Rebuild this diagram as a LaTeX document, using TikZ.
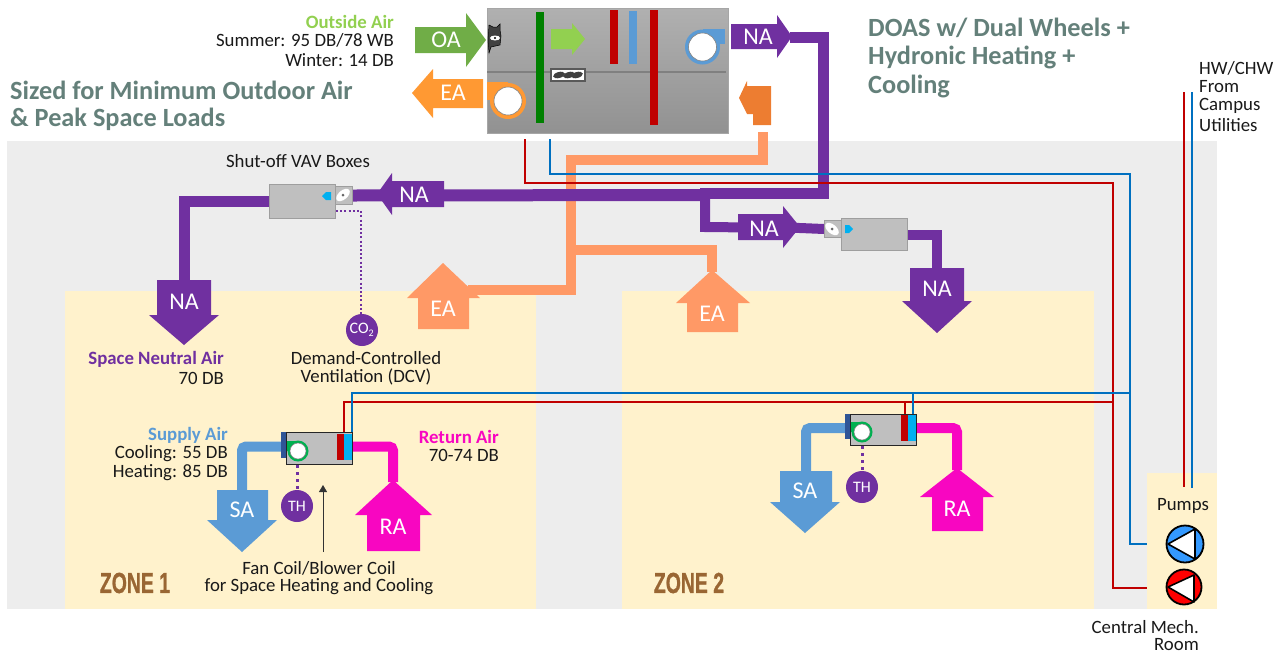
\documentclass[tikz,border=0pt]{standalone}
\usepackage{fontspec}
\setmainfont{Carlito}
\newfontfamily\zfont[FakeBold=1.2]{Liberation Sans}
\usetikzlibrary{calc,arrows.meta,backgrounds}
\definecolor{bgG}{HTML}{EDEDED}
\definecolor{zoneY}{HTML}{FFF2CC}
\definecolor{naP}{HTML}{7030A0}
\definecolor{eaO}{HTML}{FF9966}
\definecolor{exO}{HTML}{FF9933}
\definecolor{elO}{HTML}{ED7D31}
\definecolor{raM}{HTML}{F806C1}
\definecolor{saB}{HTML}{5B9BD5}
\definecolor{oaG}{HTML}{70AD47}
\definecolor{ltG}{HTML}{92D050}
\definecolor{redP}{HTML}{C00000}
\definecolor{bluP}{HTML}{0070C0}
\definecolor{cyanC}{HTML}{00B0F0}
\definecolor{titleC}{HTML}{64807A}
\definecolor{zoneT}{HTML}{996633}
\definecolor{fanG}{HTML}{00B050}
\definecolor{stripB}{HTML}{2F5597}
\definecolor{pumpBl}{HTML}{3399FF}
\tikzset{x=1pt,y=-1pt,
  txt/.style={inner sep=0,yshift=-1pt,font=\fontsize{18.8}{20}\selectfont,text=black!90},
  lab/.style={inner sep=0,font=\fontsize{24}{26}\selectfont,text=white},
  ttl/.style={inner sep=0,yshift=-1pt,font=\fontsize{26.3}{29}\bfseries\selectfont,text=titleC,anchor=west},
  zonet/.style={inner sep=0,font=\fontsize{29}{32}\bfseries\zfont\selectfont,text=zoneT},
  pipe/.style={line width=10pt,line join=miter},
  hw/.style={line width=1.6pt,redP},
  cw/.style={line width=1.6pt,bluP},
  sensor/.style={circle,fill=naP,minimum size=32pt,inner sep=0,text=white,font=\fontsize{16}{17}\selectfont},
  dots/.style={naP,line width=2pt,dash pattern=on 2pt off 2.2pt},
  bigdots/.style={naP,line width=3pt,dash pattern=on 3pt off 4pt},
  unit/.style={rectangle,fill=black!25,draw=black!38,line width=1pt,inner sep=0,anchor=north west},
  fcu/.style={rectangle,fill=black!25,draw=black!85,line width=1pt,inner sep=0,anchor=north west},
}
\newcommand{\boxat}[5]{\node[#1,minimum width=#4pt,minimum height=#5pt] (#2) at #3 {};}
\begin{document}
\begin{tikzpicture}
\useasboundingbox (0,0) rectangle (1285,654);
% named ends
\coordinate (ahuRed) at (525,139);
\coordinate (ahuBlu) at (550,139);
\coordinate (retOut) at (763,132);
\coordinate (eaTee) at (571,250);
\coordinate (eaA) at (468,290);
\coordinate (eaB) at (712,272);
\coordinate (naOutTip) at (790,37);
\coordinate (naMain) at (705,195);
\coordinate (naBr) at (800,228);
\coordinate (naL) at (184,281);
\coordinate (naR) at (937,269);
\coordinate (sa1) at (242,491);
\coordinate (ra1) at (393,482);
\coordinate (sa2) at (806,472);
\coordinate (ra2) at (957,470);
% units
\boxat{unit}{vavA}{(269,184)}{66}{34}
\boxat{unit}{dmpA}{(335,186)}{17}{18}
\boxat{unit}{vavB}{(841,218)}{66}{32}
\boxat{unit}{dmpB}{(824,220)}{17}{17}
\boxat{fcu}{fcuA}{(286,432)}{66}{32}
\boxat{fcu}{fcuB}{(850,414)}{66}{31}
% pump nodes
\node[circle,draw=black,line width=1.8pt,fill=pumpBl,minimum size=37pt,inner sep=0] (pumpB) at (1185,544) {};
\node[circle,draw=black,line width=1.8pt,fill=red,minimum size=35pt,inner sep=0] (pumpR) at (1184,587) {};
\fill[fill=white,draw=black,line width=1.6pt,line join=round] (1168,544) -- (1195,529) -- (1195,559) -- cycle;
\fill[fill=white,draw=black,line width=1.6pt,line join=round] (1168,587) -- (1194,575) -- (1194,602) -- cycle;
\begin{pgfonlayer}{background}
% backgrounds
\fill[bgG] (7,141) rectangle (1217,609);
\fill[zoneY] (65,291) rectangle (536,609);
\fill[zoneY] (622,291) rectangle (1094,609);
\fill[zoneY] (1147,473) rectangle (1217,609);
% return air pipes
\draw[pipe,eaO] (retOut) -- (763,160) -- (571,160) -- (571,290) -- (eaA);
\draw[pipe,eaO] (eaTee) -- (712,250) -- (eaB);
% NA pipes
\draw[pipe,naP,line width=11pt] (naOutTip) -- (823,37) -- (823,193) -- (700,193);
\draw[pipe,naP,line width=12pt] (dmpA.east) -- (naMain);
\draw[pipe,naP] (naMain) -- (705,227) -- (naBr) -- (dmpB.west);
\draw[pipe,naP,line width=11pt] (vavA.west) -| (naL);
\draw[pipe,naP] (vavB.east) -| (naR);
% hydronic lines
\draw[hw] (ahuRed) |- (1113,183) -- (1113,588) -- (1147,588);
\draw[hw] (1184,92) -- (1184,487);
\draw[cw] (1192,92) -- (1192,488);
\draw[hw] (344,432) -- (344,402) -- (1113,402);
\draw[hw] (905,414) -- (905,402);
\draw[cw] (ahuBlu) |- (1130,174) -- (1130,544) -- (1147,544);
\draw[cw] (352,432) -- (352,393) -- (1130,393);
\draw[cw] (913,414) -- (913,393);
% SA / RA pipes
\draw[pipe,saB,rounded corners=4pt] (fcuA.west |- 0,446.5) -- (242,446.5) -- (sa1);
\draw[pipe,raM,rounded corners=4pt] (fcuA.east |- 0,446.5) -- (393,446.5) -- (ra1);
\draw[pipe,saB,rounded corners=4pt] (fcuB.west |- 0,428) -- (806,428) -- (sa2);
\draw[pipe,raM,rounded corners=4pt] (fcuB.east |- 0,428) -- (957,428) -- (ra2);
\end{pgfonlayer}
% big arrows
\fill[oaG] (415,27) -- (466,27) -- (466,13) -- (486,40) -- (466,67) -- (466,53) -- (415,53) -- cycle;
\node[lab] (oaT) at (446,40) {OA};
\fill[exO] (412,93) -- (433,69) -- (433,79) -- (483,79) -- (483,108) -- (433,108) -- (433,118) -- cycle;
\node[lab] (eaT) at (453,93) {EA};
\fill[naP] (731,24) -- (777,24) -- (777,15) -- (792,36.5) -- (777,58) -- (777,49) -- (731,49) -- cycle;
\node[lab] (naT1) at (758,37) {NA};
\fill[naP] (377,194) -- (392,173) -- (392,181) -- (444,181) -- (444,207) -- (392,207) -- (392,215) -- cycle;
\node[lab] (naT2) at (414,195) {NA};
\fill[naP] (738,214) -- (783,214) -- (783,206) -- (800,227) -- (783,248) -- (783,240) -- (738,240) -- cycle;
\node[lab] (naT3) at (764,229) {NA};
\fill[naP] (157,280) -- (211,280) -- (211,315) -- (219,315) -- (184,345) -- (149,315) -- (157,315) -- cycle;
\node[lab] (naT4) at (184,302) {NA};
\fill[naP] (910,268) -- (964,268) -- (964,301) -- (972,301) -- (937,333) -- (902,301) -- (910,301) -- cycle;
\node[lab] (naT5) at (937,289) {NA};
\fill[eaO] (443,263) -- (480,298) -- (469,298) -- (469,329) -- (418,329) -- (418,298) -- (407,298) -- cycle;
\node[lab] (eaT1) at (443,309) {EA};
\fill[eaO] (712,270) -- (750,303) -- (738,303) -- (738,332) -- (687,332) -- (687,303) -- (676,303) -- cycle;
\node[lab] (eaT2) at (712,314) {EA};
\fill[saB] (217,490) -- (268,490) -- (268,520) -- (277,520) -- (242,552) -- (207,520) -- (217,520) -- cycle;
\node[lab] (saT1) at (242,510) {SA};
\fill[saB] (780,471) -- (832,471) -- (832,502) -- (840,502) -- (805,533) -- (770,502) -- (780,502) -- cycle;
\node[lab] (saT2) at (805,491) {SA};
\fill[raM] (393,480) -- (432,515) -- (420,515) -- (420,551) -- (367,551) -- (367,515) -- (355,515) -- cycle;
\node[lab] (raT1) at (393,527) {RA};
\fill[raM] (957,468) -- (994,497) -- (983,497) -- (983,531) -- (932,531) -- (932,497) -- (920,497) -- cycle;
\node[lab] (raT2) at (957,509) {RA};
% AHU
\node[rectangle,inner sep=0,anchor=north west,minimum width=241pt,minimum height=125pt,top color=black!31,bottom color=black!43,draw=black!35,line width=1pt] (ahu) at (487,8) {};
\draw[black!50,line width=1.2pt] (ahu.west |- 0,72) -- (726,72);
\fill[green!50!black] (536,12) rectangle (544,123);
\fill[ltG] (551,29) -- (572,29) -- (572,23) -- (585,39) -- (572,55) -- (572,49) -- (551,49) -- cycle;
\fill[redP] (610,10) rectangle (618,64);
\fill[saB] (629,11) rectangle (637,64);
\fill[redP] (650,10) rectangle (658,125);
% supply fan
\fill[saB] (702.5,47) circle[radius=17.5];
\fill[saB] (703,29) rectangle (724.5,44);
\filldraw[fill=white,draw=black!50,line width=.6pt] (702.5,47) circle[radius=14];
% exhaust fan
\fill[exO] (508,101) circle[radius=18];
\fill[exO] (487,82) rectangle (508,100);
\filldraw[fill=white,draw=black!50,line width=.6pt] (508,101) circle[radius=14];
% OA damper
\filldraw[fill=black!75,draw=black,line width=.5pt] (489,25) -- (493,27) -- (497,27) -- (500,24) -- (500,30) -- (501,36) -- (500,45) -- (491,47) -- (489,53) -- (488,40) -- cycle;
\fill[white] (495,38) ellipse[x radius=5,y radius=2.5];
\fill[black] (495,38) circle[radius=1.2];
% bypass damper
\filldraw[fill=white,draw=black!65,line width=1.3pt] (551,69) rectangle (585,81);
\foreach \cx in {559,569,577}{\fill[black!75,rotate around={15:(\cx,75)}] (\cx,75) ellipse[x radius=6,y radius=3];}
% return orange elbow
\fill[elO] (739,98) -- (747,81) -- (747,86) -- (771,86) -- (771,125) -- (753,125) -- (753,114) -- (747,114) -- cycle;
% VAV details
\fill[cyanC] (322,196) -- (326,192) -- (331,192) -- (331,200) -- (326,200) -- cycle;
\fill[white,rotate around={40:(343,195)}] (343,195) ellipse[x radius=8,y radius=4.5];
\fill[black!60] (343,195) circle[radius=1.5];
\fill[cyanC] (853,229) -- (849,225) -- (845,225) -- (845,233) -- (849,233) -- cycle;
\fill[white,rotate around={-40:(832,229)}] (832,229) ellipse[x radius=8,y radius=4.5];
\fill[black!60] (832,229) circle[radius=1.5];
\draw[dots] (vavA.east |- 0,211) -- (361,211) -- (361,314);
\node[sensor] (co2) at (362,330) {CO\textsubscript{\fontsize{10}{10}\selectfont 2}};
% FCU 1 details
\fill[stripB] (281,432) rectangle (286,458);
\fill[redP] (337,434) rectangle (344,460);
\fill[cyanC] (344,434) rectangle (351.5,460);
\fill[fanG] (298,451) circle[radius=10.5];
\fill[fanG] (286.5,441) rectangle (298,451);
\filldraw[fill=white,draw=black!50,line width=.5pt] (298,451) circle[radius=8];
\node[sensor] (th1) at (297,506) {TH};
\draw[bigdots] (fcuA.south -| th1) -- (th1.north);
\draw[-{Triangle[length=7pt,width=8pt]},black!80,line width=.8pt] (323,552) -- (323,485);
% FCU 2 details
\fill[stripB] (845,414) rectangle (850,439);
\fill[redP] (901,415) rectangle (908,441);
\fill[cyanC] (908,415) rectangle (915.5,441);
\fill[fanG] (862,432) circle[radius=10.5];
\fill[fanG] (850.5,422) rectangle (862,432);
\filldraw[fill=white,draw=black!50,line width=.5pt] (862,432) circle[radius=8];
\node[sensor] (th2) at (862,487) {TH};
\draw[bigdots] (fcuB.south -| th2) -- (th2.north);
% texts
\node[txt,anchor=east,text=ltG] (t1) at (394,21) {\textbf{Outside Air}};
\node[txt,anchor=east] (t2) at (394,39) {Summer: 95 DB/78 WB};
\node[txt,anchor=east] (t3) at (394,59) {Winter: 14 DB};
\node[ttl] (t4) at (10,89) {Sized for Minimum Outdoor Air};
\node[ttl] (t5) at (10,118) {\& Peak Space Loads};
\node[ttl] (t6) at (868,27) {DOAS w/ Dual Wheels +};
\node[ttl] (t7) at (868,56) {Hydronic Heating +};
\node[ttl] (t8) at (868,85) {Cooling};
\node[txt] (t9) at (298,160) {Shut-off VAV Boxes};
\node[txt,anchor=east,text=naP] (t10) at (224,358) {\textbf{Space Neutral Air}};
\node[txt,anchor=east] (t11) at (224,377) {70 DB};
\node[txt] (t12) at (366,357) {Demand-Controlled};
\node[txt] (t13) at (366,376) {Ventilation (DCV)};
\node[txt,anchor=east,text=saB] (t14) at (228,434) {\textbf{Supply Air}};
\node[txt,anchor=east] (t15) at (228,453) {Cooling: 55 DB};
\node[txt,anchor=east] (t16) at (228,472) {Heating: 85 DB};
\node[txt,anchor=east,text=raM] (t17) at (499,436) {\textbf{Return Air}};
\node[txt,anchor=east] (t18) at (499,454) {70-74 DB};
\node[txt] (t19) at (319,567) {Fan Coil/Blower Coil};
\node[txt] (t20) at (319,586) {for Space Heating and Cooling};
\node[zonet] (z1) at (135,583) {\scalebox{.67}[1]{ZONE 1}};
\node[zonet] (z2) at (689,583) {\scalebox{.67}[1]{ZONE 2}};
\node[txt] (t21) at (1183,505) {Pumps};
\node[txt,anchor=east] (t22) at (1199,626) {Central Mech.};
\node[txt,anchor=east] (t23) at (1199,644) {Room};
\node[txt,anchor=west] (t24) at (1199,67) {HW/CHW};
\node[txt,anchor=west] (t25) at (1199,86) {From};
\node[txt,anchor=west] (t26) at (1199,105) {Campus};
\node[txt,anchor=west] (t27) at (1199,124) {Utilities};
\end{tikzpicture}
\end{document}
